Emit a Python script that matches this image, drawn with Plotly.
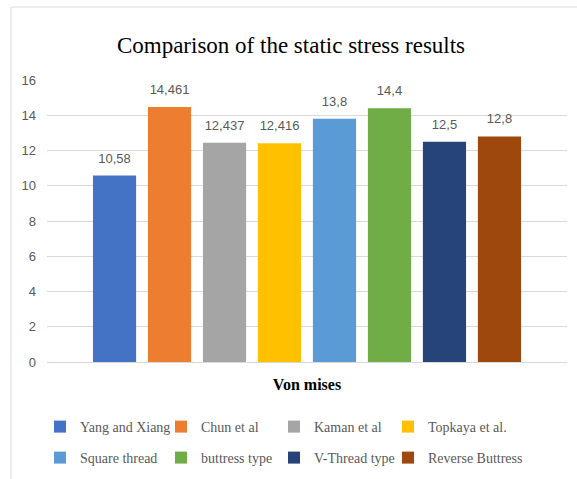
import plotly.graph_objects as go

series_names = ["Yang and Xiang", "Chun et al", "Kaman et al", "Topkaya et al.",
                "Square thread", "buttress type", "V-Thread type", "Reverse Buttress"]
values = [10.58, 14.461, 12.437, 12.416, 13.8, 14.4, 12.5, 12.8]
colors = ["#4472C4", "#ED7D31", "#A5A5A5", "#FFC000",
          "#5B9BD5", "#70AD47", "#264478", "#9E480E"]
category = ["Von mises"]
y_ticks = [0, 2, 4, 6, 8, 10, 12, 14, 16]
value_labels = [str(v).replace(".", ",") for v in values]

W, H = 577, 479
L, R, T, B = 47, 10, 80, 117
pw, ph = W - L - R, H - T - B

def px2x(px):
    return (px - L) / pw

def px2y(py):
    return (H - B - py) / ph

# legend text start (px) for the four columns and the two rows
col_text_px = [80, 201, 314, 428]
row_px = [427, 458]

fig = go.Figure()
legend_layout = {}
for i, (name, v, c) in enumerate(zip(series_names, values, colors)):
    lg = "legend" if i == 0 else f"legend{i + 1}"
    fig.add_trace(go.Bar(
        x=category, y=[v], name=name, marker_color=c,
        marker_line_width=0, offsetgroup=str(i), legend=lg,
    ))
    legend_layout[lg] = dict(
        x=(col_text_px[i % 4] - 40) / W, y=1 - row_px[i // 4] / H,
        xref="container", yref="container",
        xanchor="left", yanchor="middle", orientation="h",
        font=dict(family="Liberation Serif", size=14, color="#595959"),
        bgcolor="rgba(0,0,0,0)", itemclick=False, itemdoubleclick=False,
    )

for i, (v, lab) in enumerate(zip(values, value_labels)):
    fig.add_trace(go.Scatter(
        x=category, y=[v], mode="markers+text", text=[lab],
        textposition="top center", offsetgroup=str(i), showlegend=False,
        marker=dict(size=14, color="rgba(0,0,0,0)"), cliponaxis=False,
        textfont=dict(family="Liberation Sans", size=13, color="#595959"),
        hoverinfo="skip",
    ))

fig.update_layout(
    width=W, height=H,
    margin=dict(l=L, r=R, t=T, b=B, autoexpand=False),
    paper_bgcolor="white", plot_bgcolor="white",
    barmode="group", bargap=0.154, bargroupgap=0.215,
    scattermode="group", scattergap=0.154,
    title=dict(text="Comparison of the static stress results",
               x=291 / W, xref="container", xanchor="center",
               y=1 - 45 / H, yref="container", yanchor="middle",
               font=dict(family="Liberation Serif", size=23, color="#000000")),
    xaxis=dict(showticklabels=False, showgrid=False, zeroline=False, showline=False,
               title=dict(text="<b>Von mises</b>", standoff=16,
                          font=dict(family="Liberation Serif", size=16, color="#000000"))),
    yaxis=dict(range=[0, 16], tickvals=y_ticks, showgrid=True, gridcolor="#D9D9D9",
               gridwidth=1, zeroline=True, zerolinecolor="#D9D9D9", zerolinewidth=1,
               showline=False, ticks="", ticklabelstandoff=10,
               tickfont=dict(family="Liberation Sans", size=13, color="#595959")),
    showlegend=True,
    shapes=[dict(type="rect", xref="paper", yref="paper",
                 x0=px2x(11), x1=px2x(600), y0=px2y(500), y1=px2y(7),
                 line=dict(color="#D9D9D9", width=1), fillcolor="rgba(0,0,0,0)",
                 layer="below")],
    **legend_layout,
)

fig.write_html("out.html")
